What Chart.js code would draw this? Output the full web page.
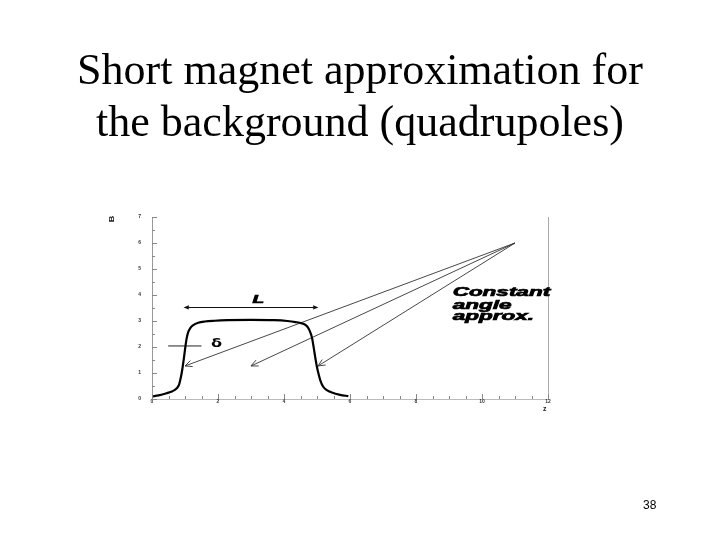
<!DOCTYPE html>
<html>
<head>
<meta charset="utf-8">
<script src="https://cdn.jsdelivr.net/npm/chart.js@4.4.1/dist/chart.umd.min.js"></script>
<style>
html,body{margin:0;padding:0;background:#fff;width:720px;height:540px;overflow:hidden}
#title{position:absolute;left:0;top:44px;width:720px;text-align:center;font-family:"Liberation Serif","Times New Roman",serif;font-size:44px;line-height:52px;color:#000}
#page{position:absolute;left:643px;top:498px;font-family:"Liberation Sans",Arial,sans-serif;font-size:12px;line-height:14px;color:#000}
#wrap{position:absolute;left:0;top:0;width:720px;height:540px}
</style>
</head>
<body>
<div id="wrap"><canvas id="c" width="720" height="540"></canvas></div>
<div id="title">Short magnet approximation for<br>the background (quadrupoles)</div>
<div id="page">38</div>
<script>
// ---- data ----
const curveX = [0.0, 0.2, 0.44, 0.62, 0.75, 0.82, 0.86, 0.9, 0.93, 0.97, 1.0, 1.05, 1.1, 1.16, 1.25, 1.4, 1.6, 1.9, 2.3, 3.0, 3.7, 4.1, 4.35, 4.54, 4.66, 4.74, 4.8, 4.85, 4.91, 4.96, 5.0, 5.05, 5.1, 5.19, 5.3, 5.45, 5.7, 5.95];
const curveY = [0.1, 0.14, 0.22, 0.3, 0.41, 0.55, 0.75, 1.0, 1.24, 1.6, 1.9, 2.33, 2.58, 2.73, 2.84, 2.93, 2.98, 3.01, 3.03, 3.04, 3.03, 3.0, 2.96, 2.91, 2.84, 2.72, 2.55, 2.35, 1.9, 1.5, 1.22, 0.95, 0.72, 0.47, 0.34, 0.25, 0.16, 0.11];
const arrowOrigin = [11.0, 6.0];
const arrowTipsX = [1.0, 3.0, 5.03];
const arrowTipsY = [1.27, 1.27, 1.27];
const lengthSpanX = [1.0, 5.0];
const lengthSpanY = 3.52;
const deltaSpanX = [0.49, 1.5];
const deltaSpanY = 2.04;
const xTickRange = [0, 12, 2];
const yTickRange = [0, 7, 1];
const annotationLines = ["Constant", "angle", "approx."];

// ---- datasets ----
const datasets = [{
  label: 'B',
  data: curveX.map((x, i) => ({x: x, y: curveY[i]})),
  showLine: true, borderColor: '#000', borderWidth: 2.2, pointRadius: 0,
  cubicInterpolationMode: 'monotone', fill: false
}];
arrowTipsX.forEach((tx, i) => {
  datasets.push({
    label: 'arrow' + i,
    data: [{x: arrowOrigin[0], y: arrowOrigin[1]}, {x: tx, y: arrowTipsY[i]}],
    showLine: true, borderColor: '#333', borderWidth: 0.9, pointRadius: 0,
    arrowEnd: true, headLen: 7, headW: 3.2
  });
});
datasets.push({
  label: 'L',
  data: [{x: lengthSpanX[0], y: lengthSpanY}, {x: lengthSpanX[1], y: lengthSpanY}],
  showLine: true, borderColor: '#111', borderWidth: 1.1, pointRadius: 0,
  arrowEnd: true, arrowStart: true, headLen: 4, headW: 1.6
});
datasets.push({
  label: 'delta',
  data: [{x: deltaSpanX[0], y: deltaSpanY}, {x: deltaSpanX[1], y: deltaSpanY}],
  showLine: true, borderColor: '#222', borderWidth: 1, pointRadius: 0
});

function drawHead(ctx, tip, from, len, w) {
  const dx = tip.x - from.x, dy = tip.y - from.y;
  const d = Math.hypot(dx, dy) || 1;
  const ux = dx / d, uy = dy / d, nx = -uy, ny = ux;
  ctx.beginPath();
  ctx.moveTo(tip.x - ux * len + nx * w, tip.y - uy * len + ny * w);
  ctx.lineTo(tip.x, tip.y);
  ctx.lineTo(tip.x - ux * len - nx * w, tip.y - uy * len - ny * w);
  ctx.stroke();
}

const decor = {
  id: 'decor',
  afterDatasetsDraw(chart) {
    const ctx = chart.ctx, xs = chart.scales.x, ys = chart.scales.y, a = chart.chartArea;
    ctx.save();
    // arrowheads
    chart.data.datasets.forEach((ds, i) => {
      const pts = chart.getDatasetMeta(i).data;
      ctx.strokeStyle = ds.borderColor; ctx.lineWidth = ds.borderWidth;
      if (ds.arrowEnd) drawHead(ctx, pts[1], pts[0], ds.headLen, ds.headW);
      if (ds.arrowStart) drawHead(ctx, pts[0], pts[1], ds.headLen, ds.headW);
    });
    // right frame line
    ctx.strokeStyle = '#aaa'; ctx.lineWidth = 1;
    ctx.beginPath(); ctx.moveTo(a.right + 0.5, a.top); ctx.lineTo(a.right + 0.5, a.bottom); ctx.stroke();
    // inward minor/major ticks
    ctx.strokeStyle = '#888'; ctx.lineWidth = 1;
    for (let v = xTickRange[0]; v <= xTickRange[1] + 1e-9; v += 0.5) {
      const px = Math.round(xs.getPixelForValue(v)) + 0.5;
      const len = (Math.abs(v % xTickRange[2]) < 1e-9) ? 5 : 3;
      ctx.beginPath(); ctx.moveTo(px, a.bottom); ctx.lineTo(px, a.bottom - len); ctx.stroke();
    }
    for (let v = yTickRange[0]; v <= yTickRange[1] + 1e-9; v += 0.5) {
      const py = Math.round(ys.getPixelForValue(v)) + 0.5;
      const len = (Math.abs(v % yTickRange[2]) < 1e-9) ? 5 : 3;
      ctx.beginPath(); ctx.moveTo(a.left, py); ctx.lineTo(a.left + len, py); ctx.stroke();
    }
    // axis titles
    ctx.fillStyle = '#222';
    ctx.font = 'bold 7px "Liberation Sans", Arial, sans-serif';
    ctx.textAlign = 'center'; ctx.textBaseline = 'middle';
    ctx.save(); ctx.translate(a.left - 40, ys.getPixelForValue(7) + 2); ctx.rotate(-Math.PI / 2); ctx.scale(1.3, 1);
    ctx.fillText('B', 0, 0); ctx.restore();
    ctx.fillText('z', xs.getPixelForValue(11.9), a.bottom + 10);
    // stretched bold italic labels
    function wide(text, xv, yv, size, sx, align) {
      ctx.save();
      ctx.font = 'italic bold ' + size + 'px "Liberation Sans", Arial, sans-serif';
      ctx.textBaseline = 'alphabetic'; ctx.textAlign = align;
      ctx.translate(xs.getPixelForValue(xv), ys.getPixelForValue(yv));
      ctx.scale(sx, 1);
      ctx.fillStyle = '#000'; ctx.strokeStyle = '#000'; ctx.lineWidth = 0.7;
      ctx.fillText(text, 0, 0);
      ctx.strokeText(text, 0, 0);
      ctx.restore();
    }
    const lineY = [3.95, 3.48, 3.03];
    annotationLines.forEach((t, i) => wide(t, 9.11, lineY[i], 12.5, 1.8, 'left'));
    wide('L', 3.22, 3.68, 10, 1.9, 'center');
    ctx.save();
    ctx.font = 'bold 12px "DejaVu Sans", sans-serif';
    ctx.textAlign = 'center'; ctx.textBaseline = 'alphabetic'; ctx.fillStyle = '#000';
    ctx.translate(xs.getPixelForValue(1.96), ys.getPixelForValue(1.99));
    ctx.scale(1.35, 1);
    ctx.fillText('δ', 0, 0);
    ctx.restore();
    ctx.restore();
  }
};

new Chart(document.getElementById('c'), {
  type: 'scatter',
  data: {datasets: datasets},
  options: {
    responsive: false, animation: false, devicePixelRatio: 1,
    layout: {padding: {left: 138, right: 172, top: 217, bottom: 129}},
    plugins: {legend: {display: false}, tooltip: {enabled: false}},
    scales: {
      x: {
        type: 'linear', min: xTickRange[0], max: xTickRange[1],
        ticks: {stepSize: xTickRange[2], font: {size: 5, weight: 'bold'}, color: '#333', padding: 0, maxRotation: 0, autoSkip: false},
        grid: {display: false, drawTicks: false},
        border: {display: true, color: '#bbb', width: 1},
        afterFit(s) { s.height = 12; }
      },
      y: {
        type: 'linear', min: yTickRange[0], max: yTickRange[1],
        ticks: {stepSize: yTickRange[2], font: {size: 5, weight: 'bold'}, color: '#333', padding: 11, autoSkip: false},
        grid: {display: false, drawTicks: false},
        border: {display: true, color: '#999', width: 1},
        afterFit(s) { s.width = 14; }
      }
    }
  },
  plugins: [decor]
});
</script>
</body>
</html>
